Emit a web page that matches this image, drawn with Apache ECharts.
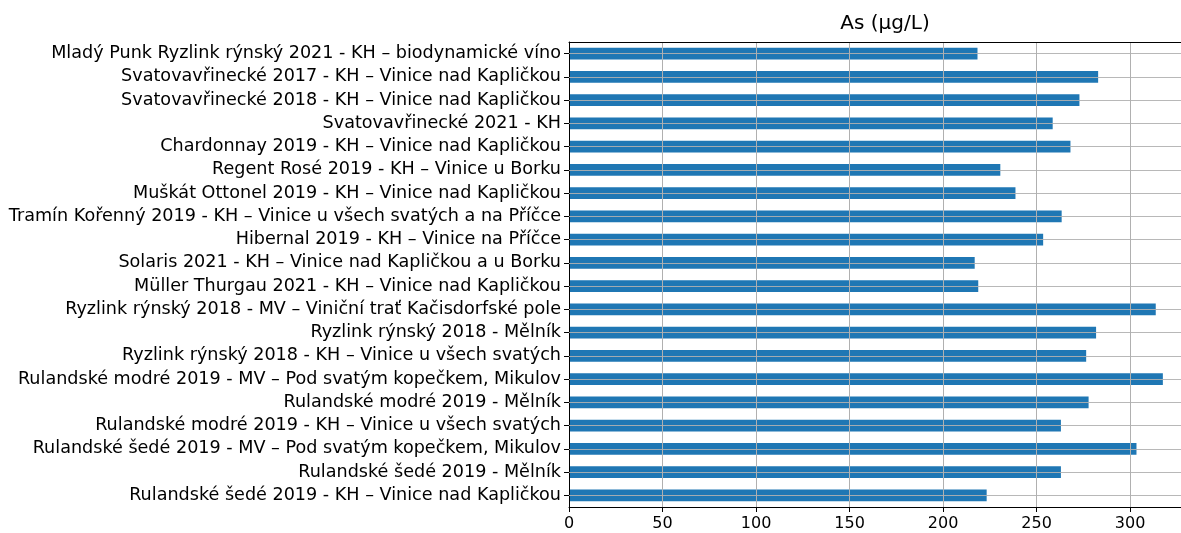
<!DOCTYPE html>
<html><head><meta charset="utf-8">
<script src="https://cdn.jsdelivr.net/npm/echarts@6/dist/echarts.min.js"></script>
<style>html,body{margin:0;padding:0;background:#fff}#c{width:1181px;height:533px}</style>
</head><body><div id="c"></div>
<script>
const categories = [
  "Mladý Punk Ryzlink rýnský 2021 - KH – biodynamické víno",
  "Svatovavřinecké 2017 - KH – Vinice nad Kapličkou",
  "Svatovavřinecké 2018 - KH – Vinice nad Kapličkou",
  "Svatovavřinecké 2021 - KH",
  "Chardonnay 2019 - KH – Vinice nad Kapličkou",
  "Regent Rosé 2019 - KH – Vinice u Borku",
  "Muškát Ottonel 2019 - KH – Vinice nad Kapličkou",
  "Tramín Kořenný 2019 - KH – Vinice u všech svatých a na Příčce",
  "Hibernal 2019 - KH – Vinice na Příčce",
  "Solaris 2021 - KH – Vinice nad Kapličkou a u Borku",
  "Müller Thurgau 2021 - KH – Vinice nad Kapličkou",
  "Ryzlink rýnský 2018 - MV – Viniční trať Kačisdorfské pole",
  "Ryzlink rýnský 2018 - Mělník",
  "Ryzlink rýnský 2018 - KH – Vinice u všech svatých",
  "Rulandské modré 2019 - MV – Pod svatým kopečkem, Mikulov",
  "Rulandské modré 2019 - Mělník",
  "Rulandské modré 2019 - KH – Vinice u všech svatých",
  "Rulandské šedé 2019 - MV – Pod svatým kopečkem, Mikulov",
  "Rulandské šedé 2019 - Mělník",
  "Rulandské šedé 2019 - KH – Vinice nad Kapličkou"
];
const asValues = [218.4, 282.9, 272.9, 258.6, 268.1, 230.6, 238.7, 263.4, 253.5, 216.9,
                  218.8, 313.7, 281.8, 276.5, 317.5, 277.8, 263.0, 303.4, 263.0, 223.3];
const xTicks = [0, 50, 100, 150, 200, 250, 300];
const titleText = "As (µg/L)";

const chart = echarts.init(document.getElementById('c'), null, {renderer: 'canvas'});
const font = "'DejaVu Sans', sans-serif";
chart.setOption({
  animation: false,
  title: {
    text: titleText, left: 880, top: 9, textAlign: 'center',
    textStyle: {fontFamily: font, fontSize: 20, fontWeight: 'normal', color: '#000'}
  },
  grid: {left: 569, right: 0, top: 42, bottom: 26},
  xAxis: [{
    type: 'value', min: 0, max: 327.2, interval: 50, z: 4,
    axisLine: {show: true, lineStyle: {color: '#000', width: 1}},
    axisTick: {show: true, length: 5, lineStyle: {color: '#000'}},
    axisLabel: {fontFamily: font, fontSize: 16, color: '#000', margin: 9, showMaxLabel: false,
      formatter: v => xTicks.includes(v) ? String(v) : ''},
    splitLine: {show: true, showMaxLine: false, lineStyle: {color: '#b0b0b0', width: 1}}
  }, {
    type: 'value', position: 'top', min: 0, max: 327.2, z: 4,
    axisLine: {show: true, lineStyle: {color: '#000', width: 1}},
    axisTick: {show: false}, axisLabel: {show: false}, splitLine: {show: false}
  }],
  yAxis: {
    type: 'category', data: categories, inverse: true, z: 4,
    axisLine: {show: true, lineStyle: {color: '#000', width: 1}},
    axisTick: {show: true, alignWithLabel: true, length: 5, lineStyle: {color: '#000'}},
    axisLabel: {fontFamily: font, fontSize: 17.6, color: '#000', margin: 8, interval: 0},
    splitLine: {show: false}
  },
  series: [
    {
      type: 'bar', data: asValues, barWidth: '50%', z: 2, xAxisIndex: 0,
      itemStyle: {color: '#1f77b4'}
    },
    {
      type: 'scatter', data: asValues.map((v, i) => [0, i]), symbolSize: 0, silent: true, z: 3, xAxisIndex: 0,
      markLine: {
        silent: true, symbol: 'none', animation: false,
        lineStyle: {color: '#b0b0b0', width: 1, type: 'solid', opacity: 0.9},
        label: {show: false},
        data: categories.map(c => ({yAxis: c}))
      }
    }
  ]
});
</script></body></html>
